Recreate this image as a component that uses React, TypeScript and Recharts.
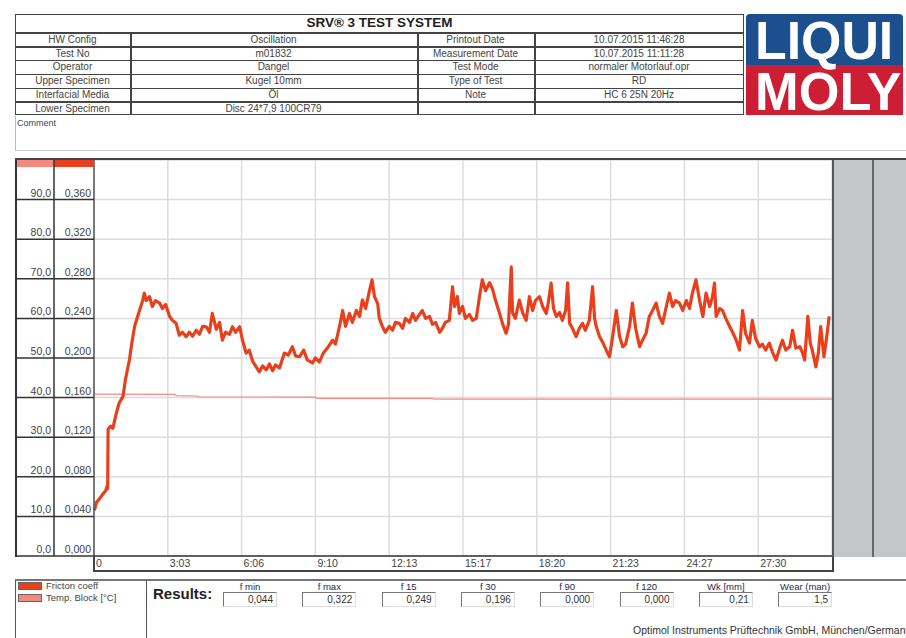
import React from 'react'
import { LineChart, Line, XAxis, YAxis, CartesianGrid } from 'recharts'

// header table
const leftLabels = ['HW Config', 'Test No', 'Operator', 'Upper Specimen', 'Interfacial Media', 'Lower Specimen']
const leftValues = ['Oscillation', 'm01832', 'Dangel', 'Kugel 10mm', 'Öl', 'Disc 24*7,9  100CR79']
const rightLabels = ['Printout Date', 'Measurement Date', 'Test Mode', 'Type of Test', 'Note', '']
const rightValues = ['10.07.2015 11:46:28', '10.07.2015 11:11:28', 'normaler Motorlauf.opr', 'RD', 'HC 6 25N 20Hz', '']

// axes
const xTicks = [0, 183.4, 366.8, 550.2, 733.6, 917, 1100.4, 1283.8, 1467.2, 1650.6]
const xTickLabels = ['0', '3:03', '6:06', '9:10', '12:13', '15:17', '18:20', '21:23', '24:27', '27:30']
const tempTicks = [0, 10, 20, 30, 40, 50, 60, 70, 80, 90]
const tempTickLabels = ['0,0', '10,0', '20,0', '30,0', '40,0', '50,0', '60,0', '70,0', '80,0', '90,0']
const fricTicks = [0, 0.04, 0.08, 0.12, 0.16, 0.2, 0.24, 0.28, 0.32, 0.36]
const fricTickLabels = ['0,000', '0,040', '0,080', '0,120', '0,160', '0,200', '0,240', '0,280', '0,320', '0,360']

// friction coefficient [seconds, value]
const frictionRaw: [number, number][] = [
  [1, 0.046], [6, 0.054], [14, 0.058], [21, 0.062], [29, 0.066], [32, 0.07], [34, 0.068], [35, 0.128],
  [41, 0.131], [47, 0.129], [53, 0.14], [58, 0.148], [63, 0.155], [72, 0.161], [78, 0.178], [88, 0.198],
  [94, 0.215], [101, 0.232], [113, 0.248], [121, 0.258], [125, 0.2655], [130, 0.258], [138, 0.262], [145, 0.252],
  [153, 0.258], [163, 0.2555], [170, 0.25], [178, 0.254], [188, 0.242], [195, 0.238], [204, 0.235], [212, 0.223],
  [220, 0.226], [229, 0.2215], [237, 0.226], [245, 0.222], [254, 0.228], [262, 0.224], [270, 0.232], [279, 0.2316],
  [287, 0.226], [294, 0.245], [304, 0.229], [312, 0.236], [319, 0.218], [327, 0.226], [337, 0.224], [344, 0.2316],
  [352, 0.226], [362, 0.2316], [369, 0.218], [378, 0.205], [386, 0.208], [394, 0.197], [403, 0.191], [411, 0.186],
  [419, 0.192], [428, 0.188], [436, 0.194], [444, 0.187], [451, 0.193], [461, 0.19], [473, 0.205], [483, 0.203],
  [493, 0.2114], [501, 0.202], [511, 0.2013], [521, 0.208], [530, 0.198], [543, 0.195], [550, 0.2], [560, 0.196],
  [570, 0.205], [580, 0.21], [593, 0.218], [600, 0.214], [610, 0.2316], [618, 0.248], [625, 0.232], [635, 0.245],
  [642, 0.236], [652, 0.248], [660, 0.242], [667, 0.2585], [675, 0.25], [685, 0.2687], [691, 0.279], [697, 0.262],
  [705, 0.255], [709, 0.24], [717, 0.2316], [724, 0.226], [734, 0.232], [742, 0.228], [749, 0.236], [759, 0.235],
  [767, 0.23], [774, 0.24], [784, 0.236], [792, 0.245], [799, 0.238], [809, 0.244], [816, 0.248], [824, 0.24],
  [834, 0.242], [841, 0.234], [849, 0.236], [859, 0.226], [866, 0.23], [873, 0.236], [883, 0.238], [891, 0.272],
  [896, 0.252], [903, 0.262], [908, 0.245], [916, 0.252], [923, 0.24], [933, 0.244], [941, 0.238], [950, 0.24],
  [958, 0.262], [965, 0.279], [973, 0.268], [983, 0.276], [990, 0.27], [998, 0.258], [1008, 0.245], [1015, 0.235],
  [1024, 0.225], [1030, 0.234], [1037, 0.292], [1040, 0.246], [1047, 0.24], [1057, 0.2585], [1065, 0.246], [1074, 0.238],
  [1082, 0.262], [1090, 0.248], [1097, 0.258], [1107, 0.262], [1115, 0.252], [1124, 0.245], [1129, 0.256], [1136, 0.2757],
  [1142, 0.25], [1149, 0.242], [1157, 0.246], [1164, 0.238], [1172, 0.248], [1177, 0.276], [1182, 0.235], [1189, 0.23],
  [1198, 0.2215], [1206, 0.23], [1214, 0.235], [1221, 0.228], [1231, 0.238], [1239, 0.272], [1244, 0.24], [1248, 0.232],
  [1256, 0.222], [1264, 0.216], [1273, 0.208], [1281, 0.2013], [1289, 0.222], [1298, 0.248], [1306, 0.222], [1314, 0.2114],
  [1321, 0.214], [1331, 0.232], [1338, 0.2555], [1346, 0.23], [1356, 0.2114], [1363, 0.218], [1372, 0.225], [1380, 0.242],
  [1388, 0.248], [1397, 0.2555], [1405, 0.242], [1413, 0.235], [1420, 0.248], [1430, 0.2655], [1438, 0.252], [1445, 0.258],
  [1455, 0.2555], [1463, 0.248], [1472, 0.258], [1480, 0.25], [1487, 0.2655], [1496, 0.279], [1505, 0.258], [1513, 0.242],
  [1521, 0.2655], [1530, 0.252], [1537, 0.262], [1542, 0.2757], [1546, 0.242], [1555, 0.25], [1562, 0.248], [1570, 0.24],
  [1580, 0.2316], [1587, 0.226], [1596, 0.218], [1604, 0.208], [1612, 0.248], [1619, 0.225], [1629, 0.215], [1636, 0.238],
  [1644, 0.22], [1654, 0.2114], [1661, 0.214], [1669, 0.208], [1678, 0.215], [1686, 0.206], [1695, 0.198], [1704, 0.21],
  [1711, 0.218], [1719, 0.208], [1729, 0.2114], [1736, 0.228], [1744, 0.21], [1754, 0.2114], [1761, 0.205], [1766, 0.198],
  [1774, 0.242], [1780, 0.215], [1785, 0.208], [1794, 0.191], [1800, 0.205], [1806, 0.2316], [1814, 0.2013], [1822, 0.225],
  [1827, 0.242],
]

// temperature block [seconds, °C]
const tempRaw: [number, number][] = [
  [0, 40.9], [200, 40.8], [205, 40.5], [255, 40.4], [260, 40.2], [550, 40.1], [555, 39.8],
  [840, 39.8], [845, 39.6], [1834, 39.6],
]

// results
const resultLabels = ['f min', 'f max', 'f 15', 'f 30', 'f 90', 'f 120', 'Wk [mm]', 'Wear (man)']
const resultValues = ['0,044', '0,322', '0,249', '0,196', '0,000', '0,000', '0,21', '1,5']

const frictionData = frictionRaw.map(([t, f]) => ({ t, f }))
const tempData = tempRaw.map(([t, c]) => ({ t, c }))

const FONT = '"Liberation Sans", Arial, sans-serif'
const RED = '#e8401c'
const SALMON = '#f28a80'

const XTick = (props: any) => {
  const { x, y, index } = props
  return (
    <text x={x + 2} y={y + 11} fontSize={10.5} fill="#444" fontFamily={FONT}>
      {xTickLabels[index]}
    </text>
  )
}

const makeYTick = (labels: string[], w: number) => (props: any) => {
  const { x, y, index } = props
  return (
    <g>
      <line x1={x - w} x2={x} y1={y} y2={y} stroke="#333" strokeWidth={1.5} />
      <text x={x - 3} y={y - 3} textAnchor="end" fontSize={10.5} fill="#444" fontFamily={FONT}>
        {labels[index]}
      </text>
    </g>
  )
}

const rowTop = 32.3
const rowH = 13.8
const cols = [15, 130, 417, 534, 744]

const cellText: React.CSSProperties = {
  position: 'absolute',
  height: rowH,
  lineHeight: rowH + 'px',
  fontSize: 10,
  color: '#444',
  textAlign: 'center',
  whiteSpace: 'nowrap',
  overflow: 'hidden',
}

const logoWord: React.CSSProperties = {
  position: 'absolute',
  left: 9,
  fontSize: 54,
  fontWeight: 700,
  color: '#fff',
  lineHeight: '44px',
  height: 44,
  transformOrigin: 'left top',
  whiteSpace: 'nowrap',
}

export default function App() {
  const rowsCols = [leftLabels, leftValues, rightLabels, rightValues]
  return (
    <div style={{ position: 'absolute', left: 0, top: 0, width: 906, height: 638, overflow: 'hidden', background: '#fff', fontFamily: FONT }}>
      {/* header table */}
      <div style={{ position: 'absolute', left: 15, top: 14, width: 729, height: 101, border: '1.5px solid #444', boxSizing: 'border-box' }} />
      <div style={{ position: 'absolute', left: 15, top: 14, width: 729, height: 18, lineHeight: '18px', textAlign: 'center', fontWeight: 'bold', fontSize: 13.5, color: '#222' }}>
        SRV® 3 TEST SYSTEM
      </div>
      {leftLabels.map((_, i) => (
        <div key={'r' + i} style={{ position: 'absolute', left: 15, top: rowTop + i * rowH, width: 729, height: 1.5, background: '#444' }} />
      ))}
      {cols.slice(1, 4).map((cx, i) => (
        <div key={'c' + i} style={{ position: 'absolute', left: cx, top: rowTop, width: 1.5, height: 115 - rowTop, background: '#444' }} />
      ))}
      {rowsCols.map((col, ci) =>
        col.map((txt, ri) => (
          <div key={ci + '-' + ri} style={{ ...cellText, left: cols[ci], width: cols[ci + 1] - cols[ci], top: rowTop + ri * rowH + 0.5 }}>
            {txt}
          </div>
        ))
      )}

      {/* logo */}
      <div style={{ position: 'absolute', left: 746, top: 14, width: 157, height: 101 }}>
        <div style={{ position: 'absolute', left: 0, top: 0, width: 157, height: 51, background: '#1b4f8e', borderRadius: '4px 4px 0 0' }} />
        <div style={{ position: 'absolute', left: 0, top: 51, width: 157, height: 50, background: '#cc1f36' }} />
        <div style={{ ...logoWord, top: 4, transform: 'scaleX(0.96)' }}>LIQUI</div>
        <div style={{ ...logoWord, top: 55, transform: 'scaleX(0.97)' }}>MOLY</div>
      </div>

      {/* comment box */}
      <div style={{ position: 'absolute', left: 15, top: 116, width: 891, height: 35, borderLeft: '1px solid #bbb', borderBottom: '1.5px solid #ccc', boxSizing: 'border-box' }} />
      <div style={{ position: 'absolute', left: 17, top: 118, fontSize: 9, color: '#444' }}>Comment</div>
      <div style={{ position: 'absolute', left: 15, top: 158, width: 891, height: 2, background: '#444' }} />

      {/* axis table header colours and border */}
      <div style={{ position: 'absolute', left: 15, top: 160, width: 39, height: 7, background: SALMON }} />
      <div style={{ position: 'absolute', left: 54, top: 160, width: 40, height: 7, background: RED }} />
      <div style={{ position: 'absolute', left: 15, top: 160, width: 1.5, height: 397, background: '#333' }} />

      {/* chart */}
      <div style={{ position: 'absolute', left: 15, top: 160 }}>
        <LineChart width={817} height={412} margin={{ top: 0, right: 0, bottom: 0, left: 0 }}>
          <CartesianGrid yAxisId="temp" stroke="#dcdcdc" strokeWidth={1.5} />
          <XAxis
            dataKey="t"
            type="number"
            domain={[0, 1834]}
            ticks={xTicks}
            height={16}
            tickSize={0}
            tickMargin={0}
            interval={0}
            axisLine={{ stroke: '#333', strokeWidth: 1.5 }}
            tick={<XTick />}
            allowDuplicatedCategory={false}
          />
          <YAxis
            yAxisId="fric"
            orientation="left"
            width={40}
            domain={[0, 0.4]}
            ticks={fricTicks}
            interval={0}
            tickSize={0}
            tickMargin={0}
            axisLine={{ stroke: '#555', strokeWidth: 1.5 }}
            tick={makeYTick(fricTickLabels, 40)}
          />
          <YAxis
            yAxisId="temp"
            orientation="left"
            width={39}
            domain={[0, 100]}
            ticks={tempTicks}
            interval={0}
            tickSize={0}
            tickMargin={0}
            axisLine={{ stroke: '#333', strokeWidth: 1.5 }}
            tick={makeYTick(tempTickLabels, 39)}
          />
          <Line
            yAxisId="temp"
            data={tempData}
            dataKey="c"
            type="linear"
            stroke={SALMON}
            strokeWidth={1.2}
            dot={false}
            isAnimationActive={false}
          />
          <Line
            yAxisId="fric"
            data={frictionData}
            dataKey="f"
            type="linear"
            stroke={RED}
            strokeWidth={3.2}
            strokeLinejoin="round"
            dot={false}
            isAnimationActive={false}
          />
        </LineChart>
      </div>

      {/* x-axis strip border */}
      <div style={{ position: 'absolute', left: 93, top: 570, width: 740, height: 1.5, background: '#444' }} />
      <div style={{ position: 'absolute', left: 93, top: 556, width: 1.5, height: 16, background: '#444' }} />
      <div style={{ position: 'absolute', left: 832, top: 556, width: 1.5, height: 16, background: '#444' }} />

      {/* right grey panel */}
      <div style={{ position: 'absolute', left: 832, top: 160, width: 74, height: 397, background: '#c5c6c9', borderLeft: '2.5px solid #555', boxSizing: 'border-box' }} />
      <div style={{ position: 'absolute', left: 872, top: 160, width: 2, height: 397, background: '#666' }} />

      {/* bottom area */}
      <div style={{ position: 'absolute', left: 15, top: 579, width: 891, height: 1.5, background: '#777' }} />
      <div style={{ position: 'absolute', left: 15, top: 580, width: 132, height: 60, borderLeft: '1.5px solid #555', borderRight: '1.5px solid #555', boxSizing: 'border-box' }} />
      <div style={{ position: 'absolute', left: 18, top: 582, width: 24, height: 8, background: RED, border: '1px solid #666', boxSizing: 'border-box' }} />
      <div style={{ position: 'absolute', left: 46, top: 580, fontSize: 9.5, color: '#444', lineHeight: '11px' }}>Fricton coeff</div>
      <div style={{ position: 'absolute', left: 18, top: 594, width: 24, height: 8, background: SALMON, border: '1px solid #666', boxSizing: 'border-box' }} />
      <div style={{ position: 'absolute', left: 46, top: 592, fontSize: 9.5, color: '#444', lineHeight: '11px' }}>Temp. Block [°C]</div>

      <div style={{ position: 'absolute', left: 153, top: 585, fontSize: 15, fontWeight: 'bold', color: '#222' }}>Results:</div>
      {resultLabels.map((lab, i) => {
        const bx = 223 + i * 79.3
        return (
          <React.Fragment key={lab}>
            <div style={{ position: 'absolute', left: bx, top: 581, width: 54, textAlign: 'center', fontSize: 9.5, color: '#1c2a5a', lineHeight: '11px', whiteSpace: 'nowrap' }}>{lab}</div>
            <div style={{ position: 'absolute', left: bx, top: 592, width: 54, height: 15, borderTop: '1.5px solid #777', borderLeft: '1.5px solid #777', borderBottom: '1px solid #ddd', borderRight: '1px solid #ddd', boxSizing: 'border-box', textAlign: 'right', fontSize: 10, lineHeight: '13px', color: '#333', paddingRight: 3 }}>
              {resultValues[i]}
            </div>
          </React.Fragment>
        )
      })}
      <div style={{ position: 'absolute', left: 633, top: 624, fontSize: 10.5, color: '#333', whiteSpace: 'nowrap' }}>Optimol Instruments Prüftechnik GmbH, München/Germany</div>
    </div>
  )
}
